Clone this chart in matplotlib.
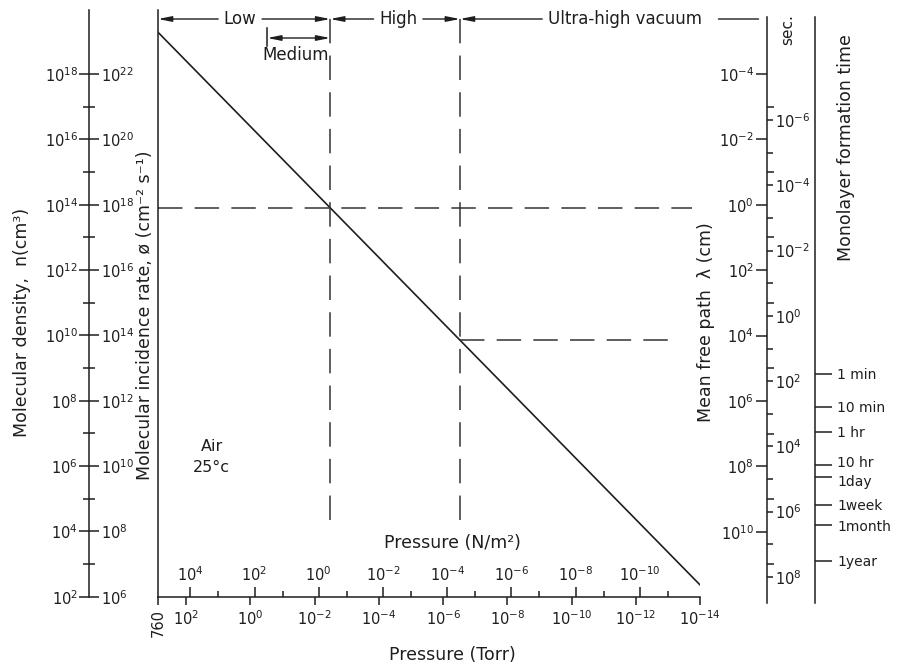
import matplotlib
matplotlib.use('Agg')
import matplotlib.pyplot as plt
import matplotlib.ticker as ticker
import matplotlib.transforms as mtransforms
import numpy as np

# ---- values ----
# molecular density of air at 25 C against pressure (end points of the straight line)
curve_torr = [760.0, 1e-14]
curve_density = [1.9e19, 2.3e2]

# vacuum ranges in Torr: low|high and high|ultra-high boundaries, start of "medium"
range_names = ['Low', 'High', 'Ultra-high vacuum']
range_bounds = [3.3e-3, 3.0e-7]
medium_start = 0.3

# dashed guide lines: density level, from pressure, to pressure (Torr)
guide_density = [8e13, 7.2e9]
guide_from = [760.0, 3.0e-7]
guide_to = [1.8e-14, 6.9e-14]

torr_major = [760, 1e2, 1e0, 1e-2, 1e-4, 1e-6, 1e-8, 1e-10, 1e-12, 1e-14]
torr_minor = [1e1, 1e-1, 1e-3, 1e-5, 1e-7, 1e-9, 1e-11, 1e-13]
pa_ticks = [1e4, 1e2, 1e0, 1e-2, 1e-4, 1e-6, 1e-8, 1e-10]

density_major = [1e2, 1e4, 1e6, 1e8, 1e10, 1e12, 1e14, 1e16, 1e18]
density_minor = [1e3, 1e5, 1e7, 1e9, 1e11, 1e13, 1e15, 1e17]
flux_major = [1e6, 1e8, 1e10, 1e12, 1e14, 1e16, 1e18, 1e20, 1e22]

mfp_major = [1e-4, 1e-2, 1e0, 1e2, 1e4, 1e6, 1e8, 1e10]
mfp_minor = [1e-3, 1e-1, 1e1, 1e3, 1e5, 1e7, 1e9, 1e11]
time_major = [1e-6, 1e-4, 1e-2, 1e0, 1e2, 1e4, 1e6, 1e8]
time_minor = [1e-5, 1e-3, 1e-1, 1e1, 1e3, 1e5, 1e7]
mono_seconds = [60, 600, 3600, 36000, 86400, 604800, 2.6e6, 3.15e7]
mono_labels = ['1 min', '10 min', '1 hr', '10 hr', '1day', '1week', '1month', '1year']

PA_PER_TORR = 133.322

# ---- layout (pixels of the 902x664 picture) ----
W, H = 902, 664
MAIN_TOP, MAIN_BOT = 10, 596.7
INK = '#1e1e1e'
LW = 1.1


def box(x0, y0, x1, y1):
    return [x0 / W, 1 - y1 / H, (x1 - x0) / W, (y1 - y0) / H]


def fy(ypx):
    # pixel row -> axes fraction of the main panel
    return (MAIN_BOT - ypx) / (MAIN_BOT - MAIN_TOP)


def pow10(v, pos=None):
    if abs(v - 760) < 1:
        return '760'
    return '$10^{%d}$' % round(np.log10(v))


def clean(a, keep=()):
    for name, sp in a.spines.items():
        sp.set_visible(name in keep)
        sp.set_linewidth(LW)
        sp.set_color(INK)
    a.patch.set_visible(False)


plt.rcParams['font.family'] = 'DejaVu Sans'
plt.rcParams['text.color'] = INK

fig = plt.figure(figsize=(W / 100, H / 100), dpi=100)
fig.patch.set_facecolor('white')

# main panel: pressure (Torr) along the bottom, density up
ax = fig.add_axes(box(158, MAIN_TOP, 700, MAIN_BOT))
ax.set_xscale('log')
ax.set_yscale('log')
ax.set_xlim(760, 1e-14)
ax.set_ylim(1e2, 10 ** 19.96)
clean(ax, keep=('left', 'bottom'))
ax.tick_params(axis='y', which='both', left=False, labelleft=False)
ax.xaxis.set_major_locator(ticker.FixedLocator(torr_major))
ax.xaxis.set_major_formatter(ticker.FuncFormatter(pow10))
ax.xaxis.set_minor_locator(ticker.FixedLocator(torr_minor))
ax.xaxis.set_minor_formatter(ticker.NullFormatter())
ax.tick_params(axis='x', which='major', direction='out', length=6, width=LW,
               pad=3, labelsize=10.5, color=INK, labelcolor=INK)
ax.tick_params(axis='x', which='minor', direction='in', length=4.5, width=LW, color=INK)
ax.get_xticklabels()[0].set_rotation(90)

ax.plot(curve_torr, curve_density, color=INK, lw=1.2)
dash = (0, (16, 8))
for b in range_bounds:
    ax.axvline(b, ymin=fy(520), ymax=1.0, color='#333333', lw=1.1, ls=dash)
for lev, x0, x1 in zip(guide_density, guide_from, guide_to):
    ax.plot([x0, x1], [lev, lev], color='#333333', lw=1.1, ls=dash)

ax.text(16, 10 ** 6.28, 'Air\n25°c', ha='center', va='center', fontsize=11.5,
        linespacing=1.5)

# pressure in N/m2 on the same baseline, ticks upward
axp = ax.twiny()
axp.set_xscale('log')
axp.set_xlim(760 * PA_PER_TORR, 1e-14 * PA_PER_TORR)
clean(axp)
axp.spines['top'].set_position(('axes', 0))
axp.xaxis.set_major_locator(ticker.FixedLocator(pa_ticks))
axp.xaxis.set_major_formatter(ticker.FuncFormatter(pow10))
axp.xaxis.set_minor_locator(ticker.NullLocator())
axp.tick_params(axis='x', which='major', direction='out', length=7, width=LW,
                pad=2, labelsize=10.5, color=INK, labelcolor=INK)

# range arrows across the top
trans = ax.get_xaxis_transform()
head = dict(arrowstyle='-|>,head_length=0.8,head_width=0.16', color=INK, lw=1.0,
            shrinkB=0, mutation_scale=10)
edges = [760.0] + range_bounds
label_x = [2.1, 2.5e-5, 2.2e-12]
row = fy(19)
for i, name in enumerate(range_names):
    ax.annotate(name, xy=(edges[i], row), xycoords=trans,
                xytext=(label_x[i], row), textcoords=trans,
                ha='center', va='center', fontsize=12, arrowprops=head,
                annotation_clip=False)
    if i + 1 < len(edges):
        ax.annotate(name, xy=(edges[i + 1], row), xycoords=trans,
                    xytext=(label_x[i], row), textcoords=trans, color='none',
                    ha='center', va='center', fontsize=12, arrowprops=head,
                    annotation_clip=False)
    else:
        ax.annotate(name, xy=(1.5e-16, row), xycoords=trans,
                    xytext=(label_x[i], row), textcoords=trans, color='none',
                    ha='center', va='center', fontsize=12,
                    arrowprops=dict(arrowstyle='-', color=INK, lw=1.0,
                                    shrinkA=10, shrinkB=0),
                    annotation_clip=False)

ax.annotate('', xy=(range_bounds[0], fy(38)), xycoords=trans,
            xytext=(medium_start, fy(38)), textcoords=trans,
            arrowprops=dict(arrowstyle='<|-|>,head_length=0.8,head_width=0.16',
                            color=INK, lw=1.0, shrinkA=0, shrinkB=0,
                            mutation_scale=10))
ax.plot([medium_start, medium_start], [fy(28), fy(46)], transform=trans,
        color=INK, lw=1.1, clip_on=False)
ax.text(0.038, fy(55), 'Medium', transform=trans, ha='center', va='center',
        fontsize=12)

# molecular density / incidence rate scale on the left
axn = fig.add_axes(box(89, MAIN_TOP, 99, MAIN_BOT))
axn.set_yscale('log')
axn.set_ylim(1e2, 10 ** 19.96)
clean(axn, keep=('left',))
axn.xaxis.set_visible(False)
axn.yaxis.set_major_locator(ticker.FixedLocator(density_major))
axn.yaxis.set_major_formatter(ticker.FuncFormatter(pow10))
axn.yaxis.set_minor_locator(ticker.FixedLocator(density_minor))
axn.yaxis.set_minor_formatter(ticker.NullFormatter())
axn.tick_params(axis='y', which='major', direction='inout', length=14, width=LW,
                pad=1, labelsize=10.5, color=INK, labelcolor=INK)
axn.tick_params(axis='y', which='minor', direction='inout', length=8.5, width=LW,
                color=INK)

axf = axn.twinx()
axf.set_yscale('log')
axf.set_ylim(1e6, 10 ** 23.96)
clean(axf)
axf.spines['right'].set_position(('axes', 0))
axf.yaxis.set_major_locator(ticker.FixedLocator(flux_major))
axf.yaxis.set_major_formatter(ticker.FuncFormatter(pow10))
axf.yaxis.set_minor_locator(ticker.NullLocator())
axf.tick_params(axis='y', which='major', length=0, pad=8.5, labelsize=10.5,
                labelcolor=INK)

# mean free path / monolayer time scales on the right
axl = fig.add_axes(box(767, 17, 815, 603))
axl.set_yscale('log')
axl.set_ylim(10 ** 12.18, 10 ** -5.74)
clean(axl, keep=('left',))
axl.xaxis.set_visible(False)
axl.yaxis.set_major_locator(ticker.FixedLocator(mfp_major))
axl.yaxis.set_major_formatter(ticker.FuncFormatter(pow10))
axl.yaxis.set_minor_locator(ticker.FixedLocator(mfp_minor))
axl.yaxis.set_minor_formatter(ticker.NullFormatter())
axl.tick_params(axis='y', which='major', direction='out', length=8, width=LW,
                pad=1.5, labelsize=10.5, color=INK, labelcolor=INK)
axl.tick_params(axis='y', which='minor', direction='in', length=5, width=LW,
                color=INK)

axt = axl.twinx()
axt.set_yscale('log')
axt.set_ylim(10 ** 8.8, 10 ** -9.16)
clean(axt)
axt.spines['right'].set_position(('axes', 0))
axt.yaxis.set_major_locator(ticker.FixedLocator(time_major))
axt.yaxis.set_major_formatter(ticker.FuncFormatter(pow10))
axt.yaxis.set_minor_locator(ticker.FixedLocator(time_minor))
axt.yaxis.set_minor_formatter(ticker.NullFormatter())
axt.tick_params(axis='y', which='major', direction='out', length=4.5, width=LW,
                pad=1, labelsize=10.5, color=INK, labelcolor=INK)
axt.tick_params(axis='y', which='minor', direction='out', length=4.5, width=LW,
                color=INK)

axm = axl.twinx()
axm.set_yscale('log')
axm.set_ylim(10 ** 8.8, 10 ** -9.16)
clean(axm, keep=('right',))
axm.yaxis.set_major_locator(ticker.FixedLocator(mono_seconds))
axm.yaxis.set_major_formatter(ticker.FixedFormatter(mono_labels))
axm.yaxis.set_minor_locator(ticker.NullLocator())
axm.tick_params(axis='y', which='major', direction='out', length=12, width=LW,
                pad=4, labelsize=10, color=INK, labelcolor=INK)
# "10 hr" and "1day" sit very close: nudge them apart a little
mono_ticklabels = axm.get_yticklabels()
for lab, dy in ((mono_ticklabels[3], 2.5), (mono_ticklabels[4], -2.5)):
    lab.set_transform(lab.get_transform() +
                      mtransforms.ScaledTranslation(0, dy / 72, fig.dpi_scale_trans))


# axis titles
def ftext(x, y, s, **kw):
    fig.text(x / W, 1 - y / H, s, ha='center', va='center', **kw)


ftext(22, 322, 'Molecular density,  n(cm³)', rotation=90, fontsize=12.5)
ftext(145, 315, 'Molecular incidence rate, ø (cm⁻² s⁻¹)', rotation=90, fontsize=12.5)
ftext(706, 322, 'Mean free path  λ (cm)', rotation=90, fontsize=12.5)
ftext(846, 148, 'Monolayer formation time', rotation=90, fontsize=12.5)
ftext(788, 30, 'sec.', rotation=90, fontsize=11)
ftext(452, 543, 'Pressure (N/m²)', fontsize=12.5)
ftext(452, 655, 'Pressure (Torr)', fontsize=12.5)

fig.savefig('out.png', dpi=100, facecolor='white')
